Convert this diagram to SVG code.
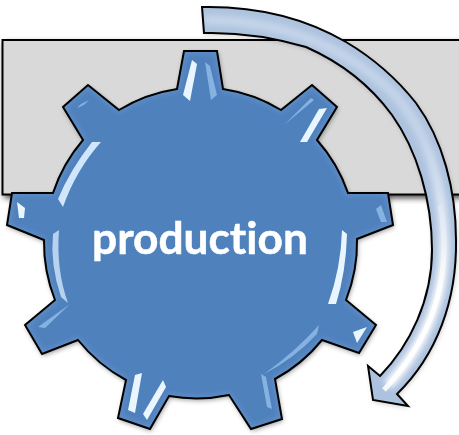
<svg xmlns="http://www.w3.org/2000/svg" width="459" height="435" viewBox="0 0 459 435">
<style>
.hl{fill:#cfe6fb}
.hb{fill:#eaf6ff}
.hf{fill:#86b2e2}
.line{fill:none;stroke:#000;stroke-width:2;stroke-linejoin:miter}
text{font-family:"Lato","Open Sans",sans-serif;font-weight:700;fill:#fff;stroke:#fff;stroke-width:0.5;font-variant-ligatures:none}
</style>
<defs>
<filter id="shadow" x="-10%" y="-10%" width="120%" height="120%"><feGaussianBlur stdDeviation="2.500"/></filter>
<filter id="sh2" x="-10%" y="-10%" width="120%" height="120%"><feGaussianBlur stdDeviation="3"/></filter>
<filter id="b1" x="-40%" y="-40%" width="180%" height="180%"><feGaussianBlur stdDeviation="0.7"/></filter>
<filter id="b2" x="-20%" y="-20%" width="140%" height="140%"><feGaussianBlur stdDeviation="3"/></filter>
<path id="gearP" d="M177,89 L184,51 L217,51 L223,89 A156,156 0 0 1 281,110 L312,85 L337,107 L317,140 A156,156 0 0 1 348,193 L388,193 L393,225 L357,239 A156,156 0 0 1 346,300 L376,325 L359,353 L322,340 A156,156 0 0 1 275,379 L282,419 L251,429 L229,395 A156,156 0 0 1 169,396 L150,429 L118,418 L126,380 A156,156 0 0 1 78,340 L42,354 L25,325 L55,300 A156,156 0 0 1 44,240 L7,225 L12,193 L53,193 A156,156 0 0 1 83,140 L63,107 L88,85 L119,110 A156,156 0 0 1 177,89 Z"/>
<path id="arrowP" d="M202,7 C255,6 305,18 346,42 C373,58 397,79 416,103 C443,140 456,190 456,240 C457,300 437,355 397,394 L408,406 L373,400 L368,366 L380,376 C410,345 432,300 432,250 C432,200 417,150 392,115 C370,85 340,62 306,47 C272,37 240,32 204,33 Z"/>
<clipPath id="gearC"><use href="#gearP"/></clipPath>
<clipPath id="arrowC"><use href="#arrowP"/></clipPath>
<linearGradient id="core" gradientUnits="userSpaceOnUse" x1="0" y1="140" x2="0" y2="290"><stop offset="0" stop-color="#c5d5ea"/><stop offset="1" stop-color="#ffffff"/></linearGradient>
</defs>
<g id="backdrop">
<rect x="4" y="43" width="470" height="155" fill="#000" opacity="0.75" filter="url(#sh2)"/>
<rect x="2.500" y="40" width="470" height="154.500" fill="#d9d9d9" stroke="#000" stroke-width="2"/>
</g>
<g id="gear">
<use href="#gearP" fill="#000" opacity="0.4" transform="translate(1,2)" filter="url(#shadow)"/>
<use href="#gearP" fill="#4f81bd"/>
<g clip-path="url(#gearC)">
<use href="#gearP" fill="none" stroke="#9dbde6" stroke-width="4" opacity="0.35" filter="url(#b2)"/>
<g filter="url(#b1)">
<path class="hl" d="M92,142 L101,142 Q76,170 63,207 L58,199 Q70,170 92,142Z"/>
<path class="hb" d="M192,60 L197,64 L190,101 L183,95Z"/>
<path class="hf" d="M205,62 L210,66 L217,95 L211,100Z"/>
<path class="hf" d="M89,100 Q84,106 77,108 L81,104Z"/>
<path class="hb" d="M319,109 L327,108 L307,142 L300,142Z"/>
<path class="hf" d="M311,98 L314,100 L284,125 L282,127Z"/>
<path class="hf" d="M381,205 L376,209 L381,222 L387,222Z"/>
<path class="hb" d="M17,202 L25,208 L24,218 L19,218Z"/>
<path class="hl" d="M59,230 Q56,270 68,303 L61,297 Q50,265 53,234Z" opacity="0.8"/>
<path class="hf" d="M70,304 L38,327 L45,328Z"/>
<path class="hb" d="M142,373 L135,375 L128,410 L135,413Z"/>
<path class="hb" d="M163,380 L166,387 L147,420 L143,414Z"/>
<path class="hf" d="M261,374 L266,377 L272,409 L267,407Z"/>
<path class="hf" d="M319,325 L317,334 Q295,358 264,374 Q295,352 319,325Z"/>
<path class="hb" d="M342,230 L347,234 Q346,272 336,304 L328,304 Q341,268 342,230Z"/>
<path class="hb" d="M353,332 L367,327 L357,343Z"/>
</g>
</g>
<use href="#gearP" class="line"/>
<text x="200" y="253.500" font-size="43" text-anchor="middle" textLength="216" lengthAdjust="spacingAndGlyphs">production</text>
</g>
<g id="arrow">
<use href="#arrowP" fill="#000" opacity="0.2" transform="translate(1,2)" filter="url(#shadow)"/>
<use href="#arrowP" fill="#adc2de"/>
<g clip-path="url(#arrowC)">
<path d="M204,20 C270,20 340,40 395,95 C430,135 444,190 444,245 C444,300 425,345 388,385" fill="none" stroke="url(#core)" stroke-width="10" filter="url(#b2)"/>
<path d="M440,205 C443,220 444,232 444,245 C444,300 425,345 384,390" fill="none" stroke="url(#core)" stroke-width="5" stroke-opacity="0.85" filter="url(#b1)"/>
</g>
<use href="#arrowP" class="line"/>
</g>
</svg>
